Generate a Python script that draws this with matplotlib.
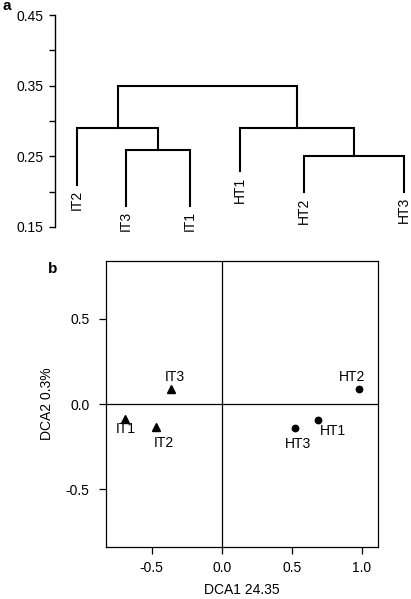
import matplotlib
matplotlib.use("Agg")
import matplotlib.pyplot as plt

plt.rcParams['font.family'] = ['Liberation Sans', 'DejaVu Sans']
plt.rcParams['font.size'] = 10

# ---------- data: (a) dendrogram
leaf_names = ['IT2', 'IT3', 'IT1', 'HT1', 'HT2', 'HT3']
leaf_pos = [1.0, 2.0, 3.31, 4.33, 5.63, 7.67]
leaf_end = [0.21, 0.18, 0.18, 0.229, 0.20, 0.20]
# merges: (left, right, height); ints = leaf index, 'cN' = N-th merge
merges = [(1, 2, 0.259),
          (0, 'c0', 0.290),
          (4, 5, 0.250),
          (3, 'c2', 0.290),
          ('c1', 'c3', 0.350)]

# ---------- data: (b) DCA ordination
site_names = ['IT1', 'IT2', 'IT3', 'HT1', 'HT2', 'HT3']
dca1 = [-0.69, -0.47, -0.36, 0.69, 0.98, 0.52]
dca2 = [-0.09, -0.137, 0.09, -0.092, 0.09, -0.139]
site_group = ['IT', 'IT', 'IT', 'HT', 'HT', 'HT']
# label offsets in pixels (dx, dy)
label_off = {'IT1': (1, -10), 'IT2': (8, -16), 'IT3': (4, 12),
             'HT1': (15, -11), 'HT2': (-7, 12), 'HT3': (3, -16)}

fig = plt.figure(figsize=(4.11, 5.99), dpi=100)
W, H = 411.0, 599.0

### (a) dendrogram ###
ax1 = fig.add_axes([55 / W, (H - 227) / H, (W - 55) / W, 212 / H])
ax1.set_ylim(0.15, 0.45)
ax1.set_xlim(0.551, 7.816)

node_x = {}
node_h = {}
def get_xy(n):
    if isinstance(n, int):
        return leaf_pos[n], leaf_end[n]
    return node_x[n], node_h[n]

for i, (a, b, h) in enumerate(merges):
    xa, ya = get_xy(a)
    xb, yb = get_xy(b)
    ax1.plot([xa, xa, xb, xb], [ya, h, h, yb], color='black', lw=1.5,
             solid_joinstyle='miter', clip_on=False)
    node_x['c%d' % i] = (xa + xb) / 2.0
    node_h['c%d' % i] = h

for name, x, y in zip(leaf_names, leaf_pos, leaf_end):
    ax1.annotate(name, (x, y), xytext=(0, -4), textcoords='offset points',
                 rotation=90, ha='center', va='top', fontsize=10)

for s in ['top', 'right', 'bottom']:
    ax1.spines[s].set_visible(False)
ax1.spines['left'].set_linewidth(1.0)
ax1.set_xticks([])
yt = [0.15, 0.20, 0.25, 0.30, 0.35, 0.40, 0.45]
ax1.set_yticks(yt)
ax1.set_yticklabels(['0.15', '', '0.25', '', '0.35', '', '0.45'])
ax1.tick_params(axis='y', length=4.5, width=1.0, pad=4)
ax1.patch.set_visible(False)
fig.text(2 / W, 1 - 6 / H, 'a', fontweight='bold', fontsize=11, va='center', ha='left')

### (b) DCA ###
ax2 = fig.add_axes([106 / W, (H - 547) / H, 272 / W, 286 / H])
ax2.set_xlim(-0.826, 1.116)
ax2.set_ylim(-0.84, 0.84)
ax2.axhline(0, color='black', lw=0.9)
ax2.axvline(0, color='black', lw=0.9)

for name, x, y, g in zip(site_names, dca1, dca2, site_group):
    mk = '^' if g == 'IT' else 'o'
    ms = 5.5 if g == 'IT' else 4.6
    ax2.plot(x, y, marker=mk, color='black', ms=ms, ls='none')
    dx, dy = label_off[name]
    ax2.annotate(name, (x, y), xytext=(dx * 0.72, dy * 0.72), textcoords='offset points',
                 ha='center', va='center', fontsize=10)

ax2.set_xticks([-0.5, 0.0, 0.5, 1.0])
ax2.set_xticklabels(['-0.5', '0.0', '0.5', '1.0'])
ax2.set_yticks([-0.5, 0.0, 0.5])
ax2.set_yticklabels(['-0.5', '0.0', '0.5'])
ax2.tick_params(axis='x', length=5, width=0.9, pad=5)
ax2.tick_params(axis='y', length=5, width=0.9, pad=7)
for s in ax2.spines.values():
    s.set_linewidth(0.9)
ax2.set_xlabel('DCA1 24.35', fontsize=10, labelpad=6)
ax2.set_ylabel('DCA2 0.3%', fontsize=10, labelpad=8)
fig.text(53 / W, 1 - 269 / H, 'b', fontweight='bold', fontsize=11, va='center', ha='center')

fig.savefig('out.png', dpi=100)
